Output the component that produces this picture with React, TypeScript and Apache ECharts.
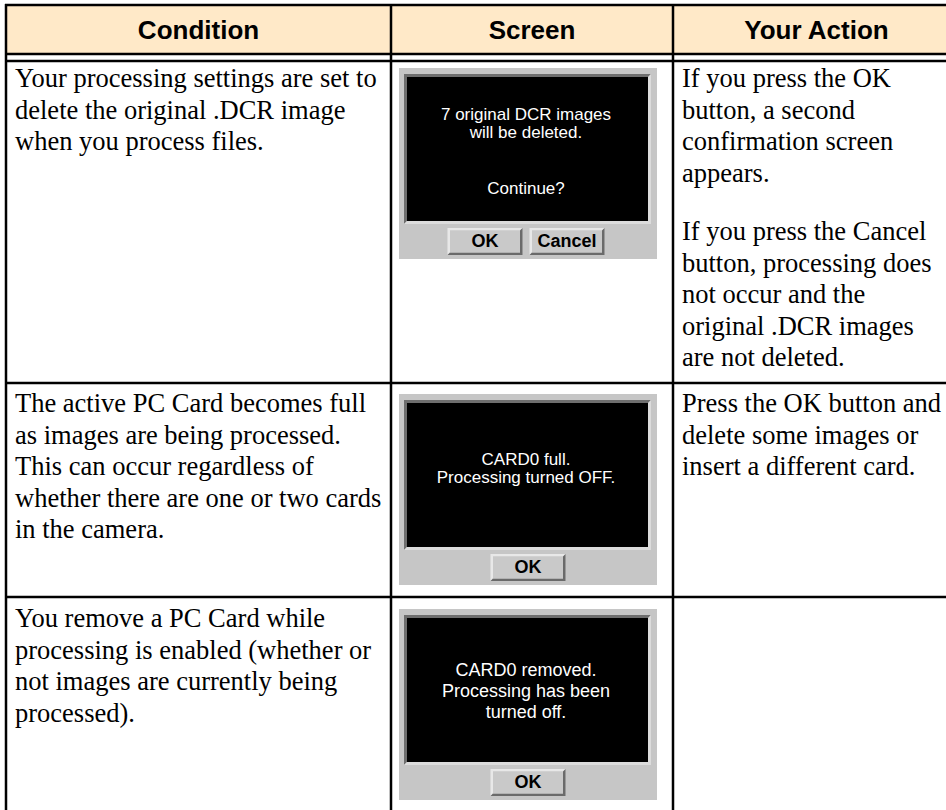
import React, { useEffect, useRef } from "react";
import * as echarts from "echarts";

// ---- content ----
const COLUMN_HEADERS = ["Condition", "Screen", "Your Action"];

const CONDITION_LINES: string[][] = [
  ["Your processing settings are set to", "delete the original .DCR image", "when you process files."],
  [
    "The active PC Card becomes full",
    "as images are being processed.",
    "This can occur regardless of",
    "whether there are one or two cards",
    "in the camera.",
  ],
  [
    "You remove a PC Card while",
    "processing is enabled (whether or",
    "not images are currently being",
    "processed).",
  ],
];

const ACTION_PARAGRAPHS: string[][][] = [
  [
    ["If you press the OK", "button, a second", "confirmation screen", "appears."],
    ["If you press the Cancel", "button, processing does", "not occur and the", "original .DCR images", "are not deleted."],
  ],
  [["Press the OK button and", "delete some images or", "insert a different card."]],
  [],
];

// each screen: message blocks (lines inside a block are drawn together)
const SCREEN_MESSAGES: string[][][] = [
  [["7 original DCR images", "will be deleted."], ["Continue?"]],
  [["CARD0 full.", "Processing turned OFF."]],
  [["CARD0 removed.", "Processing has been", "turned off."]],
];

const SCREEN_BUTTONS: string[][] = [["OK", "Cancel"], ["OK"], ["OK"]];

// ---- layout ----
const COL_X = [6, 391, 673, 960];
const HEADER_TOP = 5;
const HEADER_BOTTOM = 54;
const BODY_TOP = 61;
const ROW_LINES = [383, 597];
const TABLE_BOTTOM = 840;
const ROW_FIRST_TEXT_Y = [78, 403, 618];
const ACTION_PARA_Y = [[78, 231], [403], []];
const LINE_STEP = 31.5;
const PANEL_TOP = [68, 394, 609];
const SCREEN_BLOCK_Y = [[123.5, 188], [468], [691]];
const SCREEN_LINE_H = [18, 18, 21];
const SCREEN_FONT = [17, 17, 18];

const SERIF = '"Liberation Serif", "Times New Roman", serif';
const SANS = '"Liberation Sans", Arial, Helvetica, sans-serif';

function txt(
  x: number,
  y: number,
  text: string,
  size: number,
  family: string,
  weight: string,
  fill: string,
  align: string,
  lineHeight?: number
) {
  const style: any = {
    text,
    fill,
    fontSize: size,
    fontFamily: family,
    fontWeight: weight,
    align,
    verticalAlign: "middle",
    textAlign: align,
    textVerticalAlign: "middle",
  };
  if (lineHeight) style.lineHeight = lineHeight;
  return { type: "text", silent: true, x, y, style };
}

function bevel(x: number, y: number, w: number, h: number, t: number, tl: string, br: string) {
  return [
    {
      type: "polygon",
      silent: true,
      shape: { points: [[x, y], [x + w, y], [x + w - t, y + t], [x + t, y + t], [x + t, y + h - t], [x, y + h]] },
      style: { fill: tl },
    },
    {
      type: "polygon",
      silent: true,
      shape: { points: [[x + w, y], [x + w, y + h], [x, y + h], [x + t, y + h - t], [x + w - t, y + h - t], [x + w - t, y + t]] },
      style: { fill: br },
    },
  ];
}

function buildElements() {
  const els: any[] = [];
  els.push({
    type: "rect",
    silent: true,
    shape: { x: COL_X[0], y: HEADER_TOP, width: COL_X[3] - COL_X[0], height: HEADER_BOTTOM - HEADER_TOP },
    style: { fill: "#FFE9C8" },
  });
  COLUMN_HEADERS.forEach((h, i) => {
    els.push(txt((COL_X[i] + COL_X[i + 1]) / 2, 30, h, 26, SANS, "bold", "#000", "center"));
  });

  CONDITION_LINES.forEach((lines, r) => {
    lines.forEach((l, k) => {
      els.push(txt(15, ROW_FIRST_TEXT_Y[r] + k * LINE_STEP, l, 26.5, SERIF, "normal", "#000", "left"));
    });
  });
  ACTION_PARAGRAPHS.forEach((paras, r) => {
    paras.forEach((lines, p) => {
      lines.forEach((l, k) => {
        els.push(txt(682, ACTION_PARA_Y[r][p] + k * LINE_STEP, l, 26.5, SERIF, "normal", "#000", "left"));
      });
    });
  });

  SCREEN_MESSAGES.forEach((blocks, r) => {
    const px = 399;
    const py = PANEL_TOP[r];
    const pw = 258;
    const ph = 191;
    els.push({ type: "rect", silent: true, shape: { x: px, y: py, width: pw, height: ph }, style: { fill: "#C6C6C6" } });
    els.push(...bevel(px + 5, py + 6, 247, 150, 3, "#6E6E6E", "#DCDCDC"));
    els.push({ type: "rect", silent: true, shape: { x: px + 8, y: py + 9, width: 241, height: 144 }, style: { fill: "#000" } });
    const cx = px + 127;
    blocks.forEach((lines, k) => {
      els.push(txt(cx, SCREEN_BLOCK_Y[r][k], lines.join("\n"), SCREEN_FONT[r], SANS, "normal", "#fff", "center", SCREEN_LINE_H[r]));
    });
    const btns = SCREEN_BUTTONS[r];
    const bw = 75;
    const bh = 27;
    const gap = 7;
    const total = btns.length * bw + (btns.length - 1) * gap;
    let bx = cx - total / 2 + (btns.length === 1 ? 2 : 0);
    const by = py + 160;
    btns.forEach((b) => {
      els.push({ type: "rect", silent: true, shape: { x: bx, y: by, width: bw, height: bh }, style: { fill: "#C9C9C9" } });
      els.push(...bevel(bx, by, bw, bh, 2.5, "#E8E8E8", "#6A6A6A"));
      els.push({ type: "rect", silent: true, shape: { x: bx + 2.5, y: by + 2.5, width: bw - 5, height: bh - 5 }, style: { fill: "#C9C9C9" } });
      els.push(txt(bx + bw / 2, by + bh / 2 - 1, b, 18, SANS, "bold", "#000", "center"));
      bx += bw + gap;
    });
  });

  const lw = 2.5;
  const hLines = [HEADER_TOP, HEADER_BOTTOM, BODY_TOP, ...ROW_LINES];
  hLines.forEach((y) => {
    els.push({
      type: "line",
      silent: true,
      shape: { x1: COL_X[0] - 1, y1: y, x2: COL_X[3], y2: y },
      style: { stroke: "#000", lineWidth: lw },
    });
  });
  COL_X.forEach((x) => {
    els.push({
      type: "line",
      silent: true,
      shape: { x1: x, y1: HEADER_TOP - 1, x2: x, y2: TABLE_BOTTOM },
      style: { stroke: "#000", lineWidth: lw },
    });
  });
  return els;
}

export default function App() {
  const ref = useRef<HTMLDivElement>(null);
  useEffect(() => {
    if (!ref.current) return;
    const chart = echarts.init(ref.current, null, { renderer: "svg" });
    chart.setOption({
      animation: false,
      backgroundColor: "#ffffff",
      graphic: { elements: buildElements() },
    });
    return () => chart.dispose();
  }, []);
  return (
    <div
      ref={ref}
      style={{ position: "fixed", left: 0, top: 0, width: 946, height: 810, background: "#fff" }}
    />
  );
}
